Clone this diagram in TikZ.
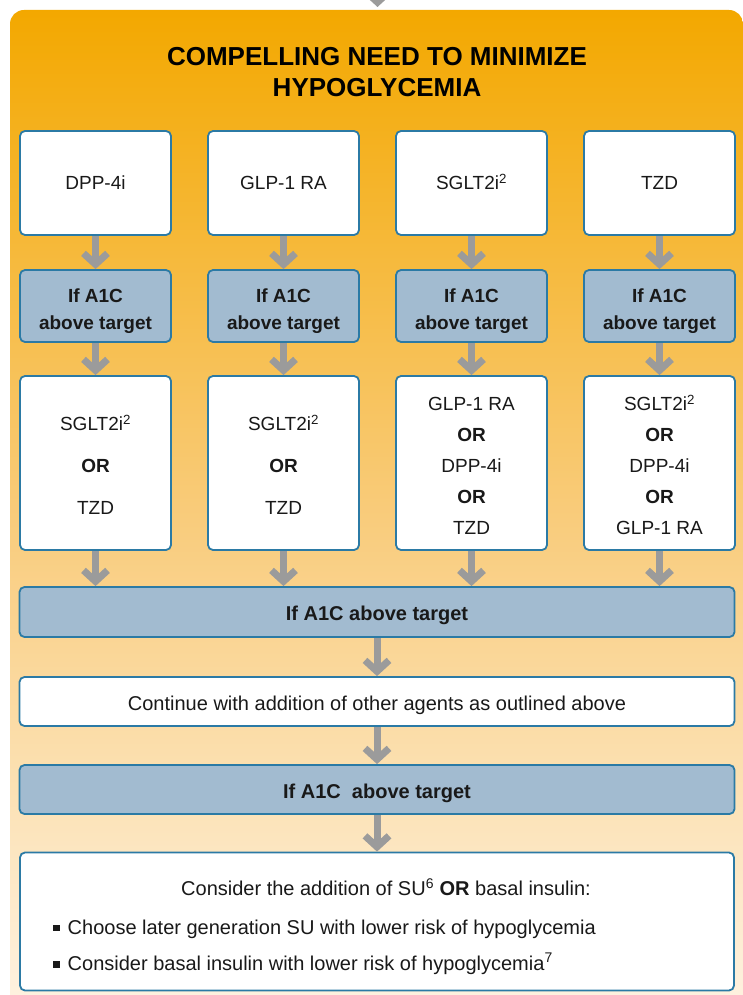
\documentclass[tikz,border=0pt]{standalone}
\usepackage{fontspec}
\setmainfont{Liberation Sans}
\usepackage{xcolor}
\usepackage{tikz}
\usetikzlibrary{arrows.meta}

\begin{document}
\begin{tikzpicture}[x=1pt,y=-1pt,>=Stealth]
\definecolor{pTop}{RGB}{243,168,0}
\definecolor{pMid}{RGB}{249,204,124}
\definecolor{pBot}{RGB}{254,244,230}
\definecolor{bd}{RGB}{43,122,165}
\definecolor{qb}{RGB}{162,187,208}
\definecolor{ag}{RGB}{155,155,155}
\definecolor{tx}{RGB}{25,25,25}
\tikzset{
  box/.style={draw=bd,line width=1.8pt,rounded corners=5pt,fill=white,minimum width=151pt,
    inner sep=0pt,align=center,text=tx,font=\fontsize{19}{23}\selectfont,
    text height=13.7pt,text depth=0pt},
  qbox/.style={box,fill=qb,font=\bfseries\fontsize{19}{27}\selectfont,text height=47.7pt},
  widebox/.style={minimum width=715pt,minimum height=49pt,font=\fontsize{20}{24}\selectfont,
    text height=17.3pt,text depth=0pt},
  arr/.style={ag,line width=7pt,-{Straight Barb[length=11pt,width=24pt]}},
  btxt/.style={inner sep=0pt,text=tx,font=\fontsize{20}{24}\selectfont}
}
\newcommand{\sqbul}{\raisebox{3pt}{\rule{6.5pt}{6.5pt}}\hspace{8pt}}
\useasboundingbox (0,0) rectangle (743,995);
\clip (0,0) rectangle (743,995);
% panel
\shade[top color=pTop,bottom color=pBot,middle color=pMid,rounded corners=14pt] (10,10) rectangle (743,1030);
\coordinate (src) at (377.5,-30);
\coordinate (entry) at (377.5,7);
\draw[arr] (src) -- (entry);
\node[font=\bfseries\fontsize{26}{31}\selectfont,align=center,text=black] (title) at (377,72) {COMPELLING NEED TO MINIMIZE\\HYPOGLYCEMIA};
% first choice
\node[box,minimum height=104pt] (t1) at (95.5,183) {DPP-4i};
\node[box,minimum height=104pt] (t2) at (283.5,183) {GLP-1 RA};
\node[box,minimum height=104pt] (t3) at (471.5,183) {SGLT2i\textsuperscript{2}};
\node[box,minimum height=104pt] (t4) at (659.5,183) {TZD};
% A1C checks
\node[qbox,minimum height=72pt] (q1) at (95.5,306) {If A1C\\above target};
\node[qbox,minimum height=72pt] (q2) at (283.5,306) {If A1C\\above target};
\node[qbox,minimum height=72pt] (q3) at (471.5,306) {If A1C\\above target};
\node[qbox,minimum height=72pt] (q4) at (659.5,306) {If A1C\\above target};
% second choice
\node[box,minimum height=174pt,font=\fontsize{19}{42}\selectfont,text height=103.7pt] (c1) at (95.5,463) {SGLT2i\textsuperscript{2}\\\textbf{OR}\\TZD};
\node[box,minimum height=174pt,font=\fontsize{19}{42}\selectfont,text height=103.7pt] (c2) at (283.5,463) {SGLT2i\textsuperscript{2}\\\textbf{OR}\\TZD};
\node[box,minimum height=174pt,font=\fontsize{19}{31}\selectfont,text height=143.7pt] (c3) at (471.5,463) {GLP-1 RA\\\textbf{OR}\\DPP-4i\\\textbf{OR}\\TZD};
\node[box,minimum height=174pt,font=\fontsize{19}{31}\selectfont,text height=143.7pt] (c4) at (659.5,463) {SGLT2i\textsuperscript{2}\\\textbf{OR}\\DPP-4i\\\textbf{OR}\\GLP-1 RA};
% wide rows
\node[qbox,widebox,minimum height=50pt,font=\bfseries\fontsize{20}{24}\selectfont] (w1) at (377,612) {If A1C above target};
\node[box,widebox] (cont) at (377,701.5) {Continue with addition of other agents as outlined above};
\node[qbox,widebox,font=\bfseries\fontsize{20}{24}\selectfont] (w2) at (377,789.5) {If A1C\ \ above target};
\node[box,minimum width=714pt,minimum height=138pt] (bot) at (377,921.5) {};
\node[btxt] (bot1) at (386,887) {Consider the addition of SU\textsuperscript{6} \textbf{OR} basal insulin:};
\node[btxt,anchor=west] (bot2) at (53,929) {\sqbul Choose later generation SU with lower risk of hypoglycemia};
\node[btxt,anchor=west] (bot3) at (53,964) {\sqbul Consider basal insulin with lower risk of hypoglycemia\textsuperscript{7}};
% arrows
\draw[arr] (t1) -- (q1);
\draw[arr] (t2) -- (q2);
\draw[arr] (t3) -- (q3);
\draw[arr] (t4) -- (q4);
\draw[arr] (q1) -- (c1);
\draw[arr] (q2) -- (c2);
\draw[arr] (q3) -- (c3);
\draw[arr] (q4) -- (c4);
\draw[arr] (c1) -- (c1 |- w1.north);
\draw[arr] (c2) -- (c2 |- w1.north);
\draw[arr] (c3) -- (c3 |- w1.north);
\draw[arr] (c4) -- (c4 |- w1.north);
\draw[arr] (w1) -- (cont);
\draw[arr] (cont) -- (w2);
\draw[arr] (w2) -- (bot);
\end{tikzpicture}
\end{document}
